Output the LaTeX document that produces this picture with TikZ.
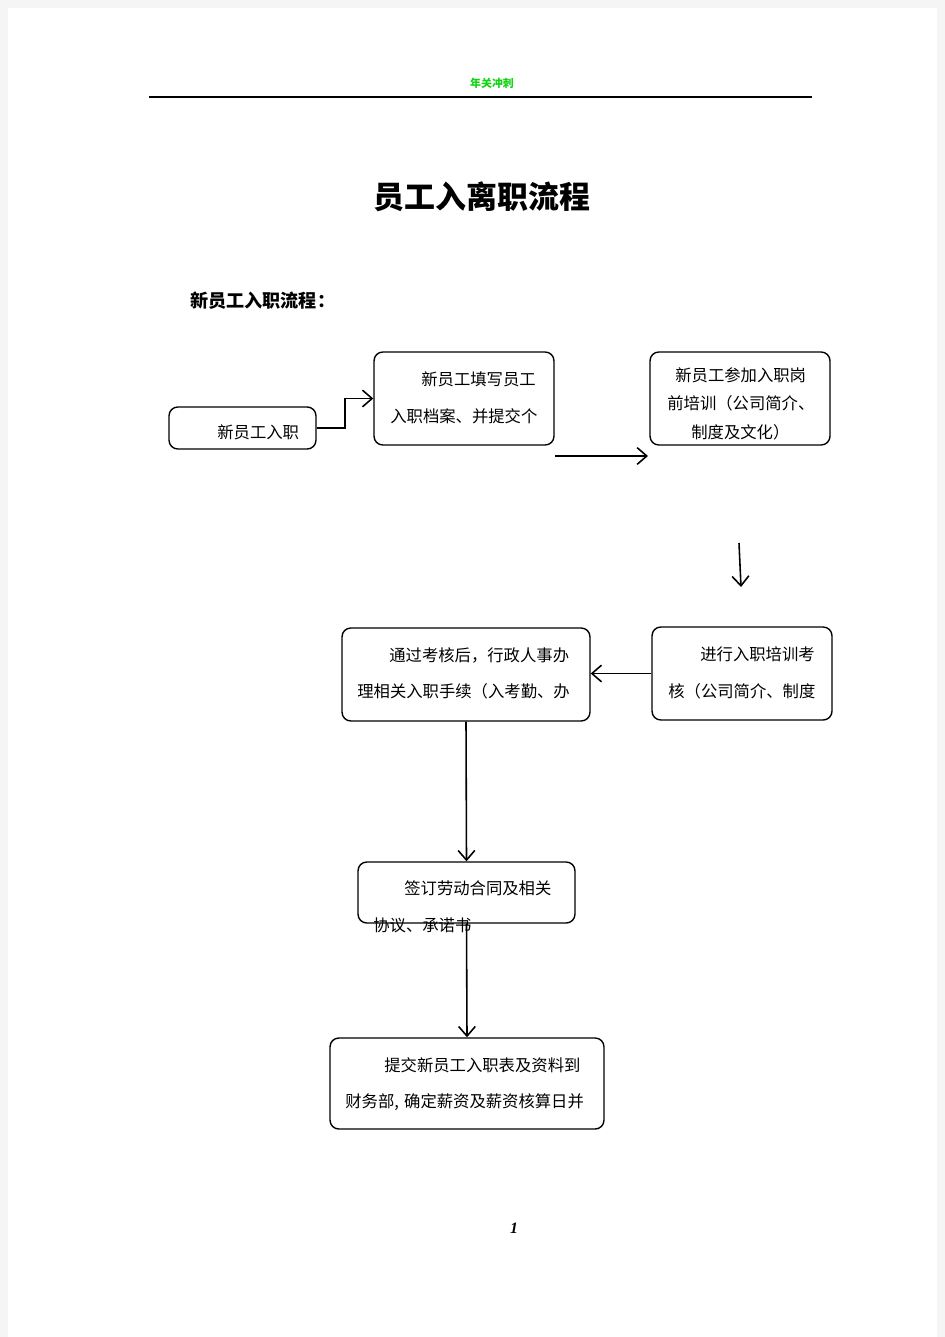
\documentclass[tikz,border=0pt]{standalone}
\usepackage{fontspec}
\setmainfont{Noto Sans CJK SC}
\newfontfamily\pnfont{Liberation Serif}
\usepackage{tikz}
\usetikzlibrary{arrows.meta}

\definecolor{kopfgruen}{RGB}{20,210,20}
\tikzset{
  kasten/.style={draw, line width=0.8pt, rounded corners=5pt, inner sep=0pt},
  zeile/.style={anchor=west, inner sep=0pt, font=\fontsize{9.3pt}{10pt}\selectfont},
  pfeil/.style={line width=0.9pt, -{Straight Barb[length=5.5pt,width=9.5pt]}}
}

\begin{document}
\begin{tikzpicture}[x=0.02cm, y=-0.02cm] % Pixelraster, y nach unten

  \useasboundingbox (0,0) rectangle (945,1337);
  % Seite
  \fill[gray!8] (0,0) rectangle (945,1337);
  \fill[white] (8,8) rectangle (937,1337);

  % Kopfzeile
  \node[font=\fontsize{6.2pt}{7pt}\selectfont\bfseries, text=kopfgruen] (kopf) at (492,83) {年关冲刺};
  \draw[line width=0.6pt] (149,97) -- (812,97);

  % Titel
  \node[font=\fontsize{17.6pt}{20pt}\selectfont\bfseries] (titel) at (482,197) {员工入离职流程};
  \node[anchor=west, inner sep=0pt, font=\fontsize{10.3pt}{12pt}\selectfont\bfseries] (abschnitt) at (190,301) {新员工入职流程：};

  % Kästen
  \node[kasten, minimum width=2.94cm, minimum height=0.84cm] (b1) at (242.5,428) {};
  \node[kasten, minimum width=3.6cm, minimum height=1.86cm] (b2) at (464,398.5) {};
  \node[kasten, minimum width=3.6cm, minimum height=1.86cm] (b3) at (740,398.5) {};
  \node[kasten, minimum width=3.6cm, minimum height=1.86cm] (b4) at (742,673.5) {};
  \node[kasten, minimum width=4.96cm, minimum height=1.86cm] (b5) at (466,674.5) {};
  \node[kasten, minimum width=4.34cm, minimum height=1.22cm] (b6) at (466.5,892.5) {};
  \node[kasten, minimum width=5.48cm, minimum height=1.82cm] (b7) at (467,1083.5) {};

  % Texte in den Kästen
  \node[zeile] (t1) at (217,432) {新员工入职};
  \node[zeile] (t2a) at (421,379) {新员工填写员工};
  \node[zeile] (t2b) at (390,416) {入职档案、并提交个};
  \node[zeile] (t3a) at (675,375) {新员工参加入职岗};
  \node[zeile] (t3b) at (667,403) {前培训（公司简介、};
  \node[zeile] (t3c) at (691,432) {制度及文化）};
  \node[zeile] (t4a) at (700,654) {进行入职培训考};
  \node[zeile] (t4b) at (668,691) {核（公司简介、制度};
  \node[zeile] (t5a) at (389,655) {通过考核后，行政人事办};
  \node[zeile] (t5b) at (357,691) {理相关入职手续（入考勤、办};
  \node[zeile] (t6a) at (404,888) {签订劳动合同及相关};
  \node[zeile] (t6b) at (373,925) {协议、承诺书};
  \node[zeile] (t7a) at (384,1065) {提交新员工入职表及资料到};
  \node[zeile] (t7b) at (345,1102) {财务部,\hspace{3pt}确定薪资及薪资核算日并};

  % Pfeile
  \coordinate (p1) at (555,456);
  \coordinate (p2) at (648,456);
  \coordinate (p3) at (739,543);
  \coordinate (p4) at (741,587);
  \draw[pfeil] (b1.east) -- (345,428) |- (b2.west);
  \draw[pfeil] (p1) -- (p2);
  \draw[pfeil] (p3) -- (p4);
  \draw[pfeil] (b4.west) -- (b5.east |- b4.west);
  \draw[pfeil] (b5.south) -- (b6.north);
  \draw[pfeil] (b6.south) -- (b7.north);

  % Seitenzahl
  \node[font=\pnfont\fontsize{9pt}{10pt}\selectfont\bfseries\itshape] (seite) at (514,1228) {1};
\end{tikzpicture}
\end{document}
